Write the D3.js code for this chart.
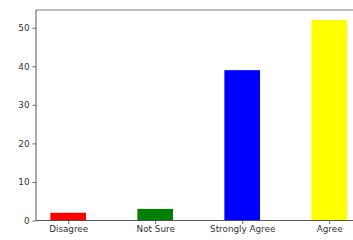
<!DOCTYPE html>
<html><head><meta charset="utf-8">
<script src="https://cdn.jsdelivr.net/npm/d3@7"></script>
<style>body{margin:0;background:#fff}svg{display:block}</style>
</head><body>
<script>
const categories = ["Disagree", "Not Sure", "Strongly Agree", "Agree"];
const counts = [2, 3, 39, 52];
const colors = ["red", "green", "blue", "yellow"];
const yTicks = [0, 10, 20, 30, 40, 50];

(function () {
const W = 353, H = 240;
const svg = d3.select("body").append("svg").attr("width", W).attr("height", H);
const mLeft = 36, mTop = 10, mBottom = 220.5;
const step = 87;
const x = d3.scaleLinear().domain([-0.37, 3.37]).range([mLeft, mLeft + 3.74 * step]);
const y = d3.scaleLinear().domain([0, 54.6]).range([mBottom, mTop]);
const bw = 0.41;

svg.selectAll("rect.bar").data(counts).join("rect")
  .attr("class", "bar")
  .attr("x", (d, i) => x(i - bw / 2))
  .attr("width", (d, i) => x(i + bw / 2) - x(i - bw / 2))
  .attr("y", d => y(d))
  .attr("height", d => y(0) - y(d))
  .attr("fill", (d, i) => colors[i]);

const yAxis = svg.append("g").attr("transform", `translate(${mLeft},0)`)
  .call(d3.axisLeft(y).tickValues(yTicks).tickSize(3.5).tickPadding(3));
const xAxis = svg.append("g").attr("transform", `translate(0,${mBottom})`)
  .call(d3.axisBottom(x).tickValues(d3.range(categories.length)).tickFormat(i => categories[i]).tickSize(3.5).tickPadding(2));
[yAxis, xAxis].forEach(g => {
  g.selectAll("text").attr("font-family", "DejaVu Sans").attr("font-size", 8.8).attr("fill", "#333");
  g.selectAll("line").attr("stroke", "#444").attr("stroke-width", 0.8);
  g.select(".domain").remove();
});
svg.append("line").attr("x1", mLeft).attr("x2", W).attr("y1", mTop).attr("y2", mTop).attr("stroke", "#aaa").attr("stroke-width", 1.6);
svg.append("line").attr("x1", mLeft).attr("x2", mLeft).attr("y1", mTop).attr("y2", mBottom).attr("stroke", "#444").attr("stroke-width", 0.9);
svg.append("line").attr("x1", mLeft).attr("x2", W).attr("y1", mBottom).attr("y2", mBottom).attr("stroke", "#444").attr("stroke-width", 0.9);
})();
</script>
</body></html>
